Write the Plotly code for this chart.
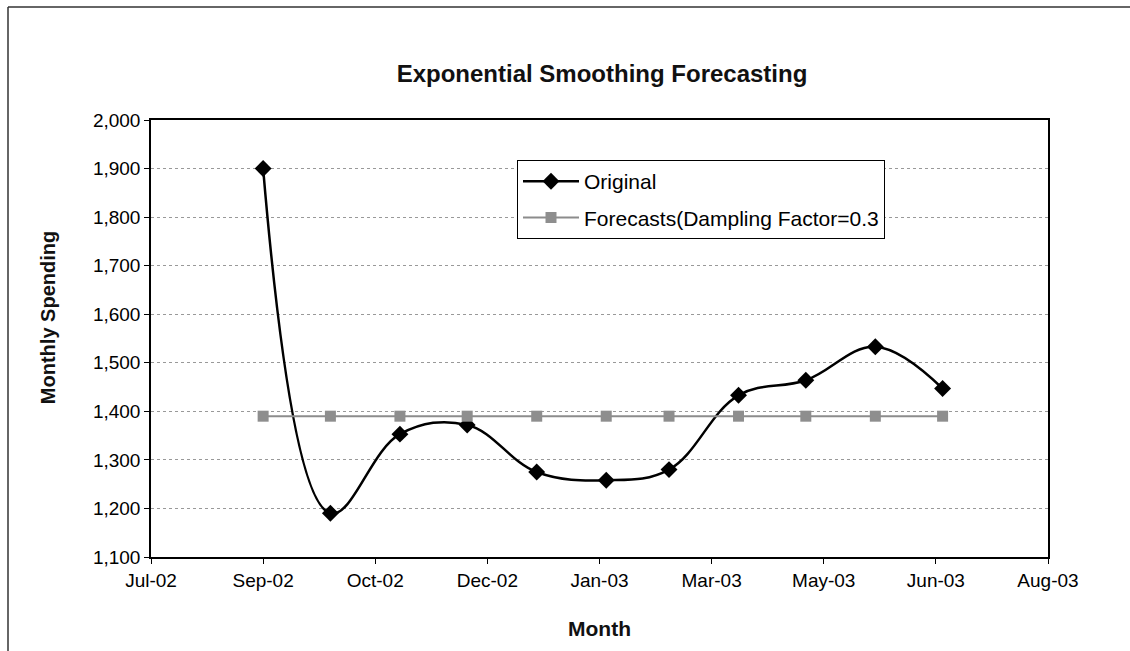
import plotly.graph_objects as go

months = ["2002-09-01", "2002-10-01", "2002-11-01", "2002-12-01", "2003-01-01",
          "2003-02-01", "2003-03-01", "2003-04-01", "2003-05-01", "2003-06-01", "2003-07-01"]
original = [1900, 1190, 1353, 1372, 1275, 1258, 1280, 1433, 1464, 1533, 1447]
forecasts = [1390, 1390, 1390, 1390, 1390, 1390, 1390, 1390, 1390, 1390, 1390]

x_tickvals = ["2002-07-13", "2002-09-01", "2002-10-21", "2002-12-10", "2003-01-29",
              "2003-03-20", "2003-05-09", "2003-06-28", "2003-08-17"]
x_ticktext = ["Jul-02", "Sep-02", "Oct-02", "Dec-02", "Jan-03",
              "Mar-03", "May-03", "Jun-03", "Aug-03"]
y_tickvals = [1100, 1200, 1300, 1400, 1500, 1600, 1700, 1800, 1900, 2000]

FONT = "Liberation Sans, Arial, sans-serif"

fig = go.Figure()
fig.add_trace(go.Scatter(
    x=months, y=original, name="Original", mode="lines+markers",
    line=dict(color="black", width=2.5, shape="spline", smoothing=1.1),
    marker=dict(symbol="diamond", size=13, color="black"),
    legendgroup="a",
))
fig.add_trace(go.Scatter(
    x=months, y=forecasts, name="Forecasts(Dampling Factor=0.3", mode="lines+markers",
    line=dict(color="#8c8c8c", width=2),
    marker=dict(symbol="square", size=11, color="#8e8e8e"),
    legendgroup="b",
))

L, R, T, B = 151, 1048, 120, 556.7
W, H = R - L, B - T

def px(x):
    return (x - L) / W

def py(y):
    return (B - y) / H

fig.update_layout(
    width=1130, height=651,
    margin=dict(l=L, r=1130 - R, t=T, b=651 - B, autoexpand=False),
    paper_bgcolor="white", plot_bgcolor="white",
    font=dict(family=FONT, size=19, color="black"),
    title=dict(text="<b>Exponential Smoothing Forecasting</b>", x=602 / 1130, xanchor="center",
               y=1 - 74 / 651, yanchor="middle", font=dict(size=24, family=FONT, color="#111")),
    showlegend=True,
    legend=dict(x=px(517), y=py(160), xanchor="left", yanchor="top",
                bgcolor="white", bordercolor="black", borderwidth=1, itemwidth=56,
                font=dict(size=21, family=FONT), traceorder="grouped", tracegroupgap=6),
    xaxis=dict(type="date", range=["2002-07-13", "2003-08-17"],
               tickmode="array", tickvals=x_tickvals, ticktext=x_ticktext,
               showgrid=False, showline=True, linecolor="black", linewidth=1.5, mirror=True,
               ticks="outside", ticklen=5, tickcolor="black", tickfont=dict(size=19)),
    yaxis=dict(range=[1100, 2000], tickmode="array", tickvals=y_tickvals,
               tickformat=",", showgrid=True, gridcolor="#999", griddash="dot", gridwidth=1,
               showline=True, linecolor="black", linewidth=1.5, mirror=True,
               ticks="outside", ticklen=5, tickcolor="black", tickfont=dict(size=19),
               zeroline=False),
    annotations=[
        dict(text="<b>Monthly Spending</b>", xref="paper", yref="paper", x=px(48), y=py(318),
             xanchor="center", yanchor="middle", textangle=-90, showarrow=False,
             font=dict(size=20, family=FONT, color="#111")),
        dict(text="<b>Month</b>", xref="paper", yref="paper", x=px(599), y=py(628),
             xanchor="center", yanchor="middle", showarrow=False,
             font=dict(size=21, family=FONT, color="#111")),
    ],
    shapes=[
        dict(type="line", xref="paper", yref="paper", x0=px(8), x1=px(1130), y0=py(7), y1=py(7),
             line=dict(color="#333", width=1.5)),
        dict(type="line", xref="paper", yref="paper", x0=px(8), x1=px(8), y0=py(7), y1=py(651),
             line=dict(color="#333", width=1.5)),
    ],
)

fig.write_html("out.html")
